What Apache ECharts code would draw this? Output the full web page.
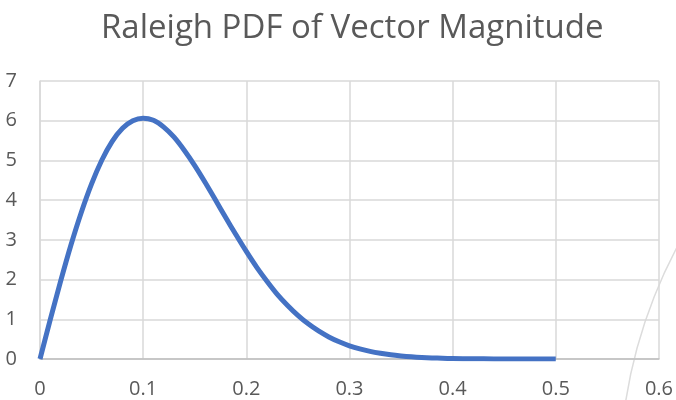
<!DOCTYPE html>
<html>
<head>
<meta charset="utf-8">
<script src="https://cdn.jsdelivr.net/npm/echarts@6/dist/echarts.min.js"></script>
<style>html,body{margin:0;padding:0;background:#fff}#c{width:676px;height:400px}</style>
</head>
<body>
<div id="c"></div>
<script>
const titleText = "Raleigh PDF of Vector Magnitude";
const magnitude = [0, 0.01, 0.02, 0.03, 0.04, 0.05, 0.06, 0.07, 0.08, 0.09, 0.10, 0.11, 0.12, 0.13, 0.14, 0.15, 0.16, 0.17, 0.18, 0.19, 0.20, 0.21, 0.22, 0.23, 0.24, 0.25, 0.26, 0.27, 0.28, 0.29, 0.30, 0.31, 0.32, 0.33, 0.34, 0.35, 0.36, 0.37, 0.38, 0.39, 0.40, 0.42, 0.44, 0.46, 0.48, 0.50];
const pdf = [0, 0.995, 1.96, 2.87, 3.69, 4.41, 5.01, 5.48, 5.81, 6.00, 6.065, 6.01, 5.84, 5.585, 5.25, 4.87, 4.45, 4.01, 3.56, 3.13, 2.71, 2.315, 1.96, 1.63, 1.35, 1.10, 0.885, 0.706, 0.556, 0.433, 0.333, 0.254, 0.191, 0.143, 0.105, 0.077, 0.055, 0.039, 0.028, 0.019, 0.013, 0.006, 0.003, 0.001, 0.0005, 0.0002];
const xTicks = [0, 0.1, 0.2, 0.3, 0.4, 0.5, 0.6];
const yTicks = [0, 1, 2, 3, 4, 5, 6, 7];

const chart = echarts.init(document.getElementById('c'), null, {renderer: 'canvas'});
const font = "'Open Sans', 'Liberation Sans', sans-serif";
chart.setOption({
  animation: false,
  backgroundColor: '#fff',
  title: {
    text: titleText, left: 96, top: 7,
    textStyle: {fontFamily: font, fontSize: 33, fontWeight: 'normal', color: '#595959'}
  },
  grid: {left: 40, right: 17, top: 81, bottom: 41, containLabel: false, show: false},
  xAxis: {
    type: 'value', min: xTicks[0], max: xTicks[xTicks.length - 1], interval: 0.1,
    axisLine: {show: true, onZero: false, lineStyle: {color: '#bfbfbf', width: 1.5}},
    axisTick: {show: false},
    splitLine: {show: true, lineStyle: {color: '#d9d9d9', width: 1.5}},
    axisLabel: {margin: 20, fontFamily: font, fontSize: 20, color: '#595959',
      formatter: v => String(Math.round(v * 10) / 10)}
  },
  yAxis: {
    type: 'value', min: yTicks[0], max: yTicks[yTicks.length - 1], interval: 1,
    axisLine: {show: true, lineStyle: {color: '#d9d9d9', width: 1.5}},
    axisTick: {show: false},
    splitLine: {show: true, lineStyle: {color: '#d9d9d9', width: 1.5}},
    axisLabel: {margin: 23, fontFamily: font, fontSize: 20, color: '#595959'}
  },
  series: [{
    type: 'line', smooth: 0.25, showSymbol: false,
    data: magnitude.map((x, i) => [x, pdf[i]]),
    lineStyle: {color: '#4472c4', width: 5, cap: 'butt', join: 'round'},
    z: 5
  }],
  graphic: [{
    type: 'circle', silent: true, z: 0,
    shape: {cx: 1107, cy: 476, r: 487},
    style: {fill: 'none', stroke: '#dcdcdc', lineWidth: 1.5}
  }]
});
</script>
</body>
</html>
